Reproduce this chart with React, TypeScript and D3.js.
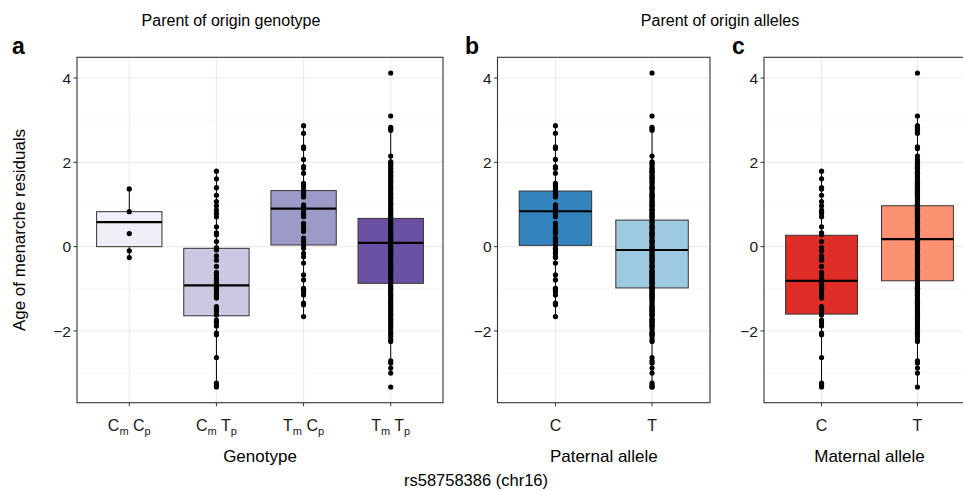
import * as d3 from "d3";
import React from "react";

// residuals per parent-of-origin genotype
const cmcp = [1.37, 0.83, 0.31, -0.1, -0.26];
const cmtp = [
  1.79, 1.61, 1.4, 1.22, 1.07, 0.97, 0.87, 0.79, 0.71, 0.47, 0.33, 0.28, 0.12,
  -0.02, -0.08, -0.22, -0.32, -0.47, -0.61, -0.67, -0.75, -0.81, -0.87, -0.95,
  -0.99, -1.04, -1.11, -1.17, -1.22, -1.42, -1.49, -1.54, -1.62, -1.74, -1.8,
  -1.88, -2.05, -2.09, -2.63, -3.24, -3.29, -3.33,
];
const tmcp = [
  2.87, 2.69, 2.37, 2.33, 2.07, 1.9, 1.86, 1.74, 1.5, 1.46, 1.42, 1.34, 1.3,
  1.26, 1.22, 1.18, 0.99, 0.95, 0.91, 0.87, 0.79, 0.75, 0.71, 0.55, 0.47, 0.39,
  0.36, 0.2, 0.12, 0.04, -0.04, -0.16, -0.24, -0.39, -0.67, -0.79, -0.99,
  -1.03, -1.07, -1.15, -1.34, -1.38, -1.66,
];
const tmtp = [
  4.12, 3.1, 2.83, 2.8, 2.76, 2.15, 2.01, 1.98, 1.93, 1.87, 1.84, 1.78, 1.75,
  1.69, 1.66, 1.61, 1.55, 1.52, 1.47, 1.41, 1.38, 1.33, 1.27, 1.24, 1.18, 1.14,
  1.09, 1.03, 1.0, 0.95, 0.89, 0.86, 0.8, 0.75, 0.71, 0.66, 0.6, 0.57, 0.52,
  0.46, 0.42, 0.37, 0.31, 0.28, 0.22, 0.17, 0.13, 0.08, 0.02, -0.01, -0.07,
  -0.12, -0.16, -0.21, -0.27, -0.3, -0.36, -0.41, -0.45, -0.5, -0.56, -0.59,
  -0.65, -0.7, -0.74, -0.79, -0.85, -0.88, -0.94, -0.99, -1.03, -1.08, -1.14,
  -1.17, -1.23, -1.28, -1.32, -1.37, -1.43, -1.46, -1.52, -1.57, -1.61, -1.66,
  -1.72, -1.75, -1.81, -1.86, -1.9, -1.96, -2.03, -2.08, -2.14, -2.21, -2.25,
  -2.71, -2.76, -2.88, -3.0, -3.33,
];

// paternal / maternal allele groups are unions of the genotype groups
const paternalC = [...cmcp, ...tmcp];
const paternalT = [...cmtp, ...tmtp];
const maternalC = [...cmcp, ...cmtp];
const maternalT = [...tmcp, ...tmtp];

// box stats: [lower whisker, q1, median, q3, upper whisker]
const genotypeBoxes = [
  [-0.26, 0.0, 0.58, 0.83, 1.37],
  [-3.33, -1.64, -0.92, -0.04, 1.79],
  [-1.66, 0.04, 0.9, 1.33, 2.87],
  [-3.0, -0.87, 0.09, 0.67, 2.83],
];
const paternalBoxes = [
  [-1.66, 0.03, 0.84, 1.32, 2.87],
  [-3.33, -0.98, -0.08, 0.63, 2.83],
];
const maternalBoxes = [
  [-3.33, -1.6, -0.81, 0.27, 1.79],
  [-3.33, -0.81, 0.18, 0.97, 3.1],
];

const genotypeLabels = [
  ["C", "m", "C", "p"],
  ["C", "m", "T", "p"],
  ["T", "m", "C", "p"],
  ["T", "m", "T", "p"],
];
const alleleLabels = ["C", "T"];
const yTicks = [-2, 0, 2, 4];
const yMinor = [-3, -1, 1, 3];

const purples = ["#f0eef6", "#cbc9e2", "#9e9ac8", "#6a51a3"];
const blues = ["#3182bd", "#9ecae1"];
const reds = ["#de2d26", "#fc9272"];

const FONT = "'Liberation Sans', Arial, Helvetica, sans-serif";
const TOP = 57.3;
const BOTTOM = 402.7;

const allValues = [...cmcp, ...cmtp, ...tmcp, ...tmtp];
const [vmin, vmax] = d3.extent(allValues) as [number, number];
const pad = (vmax - vmin) * 0.05;
const y = d3.scaleLinear().domain([vmin - pad, vmax + pad]).range([BOTTOM, TOP]);

function Panel({ left, right, groups, boxes, fills, label, xTitle, letter, letterX }) {
  const x = d3
    .scalePoint<string>()
    .domain(groups.map((_, i) => String(i)))
    .range([left, right])
    .padding(0.6);
  const bw = x.step() * 0.75;
  return (
    <g>
      {/* grid */}
      {yMinor.map((t) => (
        <line key={"mi" + t} x1={left} x2={right} y1={y(t)} y2={y(t)} stroke="#f2f2f2" strokeWidth={0.6} />
      ))}
      {yTicks.map((t) => (
        <line key={"ma" + t} x1={left} x2={right} y1={y(t)} y2={y(t)} stroke="#ebebeb" strokeWidth={1.1} />
      ))}
      {groups.map((_, i) => (
        <line key={"v" + i} x1={x(String(i))} x2={x(String(i))} y1={TOP} y2={BOTTOM} stroke="#ebebeb" strokeWidth={1.1} />
      ))}

      {/* boxes */}
      {boxes.map((b, i) => {
        const cx = x(String(i))!;
        return (
          <g key={"b" + i}>
            <line x1={cx} x2={cx} y1={y(b[4])} y2={y(b[3])} stroke="#000" strokeWidth={1} />
            <line x1={cx} x2={cx} y1={y(b[1])} y2={y(b[0])} stroke="#000" strokeWidth={1} />
            <rect x={cx - bw / 2} y={y(b[3])} width={bw} height={y(b[1]) - y(b[3])} fill={fills[i]} stroke="#333" strokeWidth={1} />
            <line x1={cx - bw / 2} x2={cx + bw / 2} y1={y(b[2])} y2={y(b[2])} stroke="#000" strokeWidth={2.2} />
          </g>
        );
      })}

      {/* points */}
      {groups.map((vals, i) =>
        vals.map((v, j) => <circle key={i + "-" + j} cx={x(String(i))} cy={y(v)} r={2.6} fill="#000" />)
      )}

      {/* border */}
      <rect x={left} y={TOP} width={right - left} height={BOTTOM - TOP} fill="none" stroke="#333" strokeWidth={1.1} />

      {/* y axis */}
      {yTicks.map((t) => (
        <g key={"yt" + t}>
          <line x1={left - 3.5} x2={left} y1={y(t)} y2={y(t)} stroke="#333" strokeWidth={1} />
          <text x={left - 6} y={y(t)} dy="0.36em" textAnchor="end" fontSize={15.5} fill="#1a1a1a">
            {t < 0 ? "\u2212" + Math.abs(t) : t}
          </text>
        </g>
      ))}

      {/* x axis */}
      {groups.map((_, i) => {
        const cx = x(String(i))!;
        return (
          <g key={"xt" + i}>
            <line x1={cx} x2={cx} y1={BOTTOM} y2={BOTTOM + 3.5} stroke="#333" strokeWidth={1} />
            {label(i, cx)}
          </g>
        );
      })}
      <text x={(left + right) / 2} y={462} textAnchor="middle" fontSize={17} fill="#000">
        {xTitle}
      </text>
      <text x={letterX} y={54} fontSize={23} fontWeight="bold" fill="#000">
        {letter}
      </text>
    </g>
  );
}

const genotypeLabel = (i: number, cx: number) => {
  const l = genotypeLabels[i];
  return (
    <text x={cx} y={431} textAnchor="middle" fontSize={16} fill="#1a1a1a">
      <tspan>{l[0]}</tspan>
      <tspan fontSize={11} dy={4}>{l[1]}</tspan>
      <tspan dy={-4}>{" " + l[2]}</tspan>
      <tspan fontSize={11} dy={4}>{l[3]}</tspan>
    </text>
  );
};

const alleleLabel = (i: number, cx: number) => (
  <text x={cx} y={431} textAnchor="middle" fontSize={16} fill="#1a1a1a">
    {alleleLabels[i]}
  </text>
);

export default function App() {
  return (
    <svg
      width={963}
      height={491}
      style={{ position: "absolute", left: 0, top: 0, background: "#fff", fontFamily: FONT }}
    >
      <rect width={963} height={491} fill="#fff" />
      <text x={231} y={26} textAnchor="middle" fontSize={16} fill="#000">
        Parent of origin genotype
      </text>
      <text x={720} y={26} textAnchor="middle" fontSize={16} fill="#000">
        Parent of origin alleles
      </text>
      <text x={19} y={230} transform="rotate(-90 19 230)" dy="0.35em" textAnchor="middle" fontSize={17} fill="#000">
        Age of menarche residuals
      </text>

      <Panel
        left={77}
        right={443}
        groups={[cmcp, cmtp, tmcp, tmtp]}
        boxes={genotypeBoxes}
        fills={purples}
        label={genotypeLabel}
        xTitle="Genotype"
        letter="a"
        letterX={12}
      />
      <Panel
        left={497.5}
        right={710}
        groups={[paternalC, paternalT]}
        boxes={paternalBoxes}
        fills={blues}
        label={alleleLabel}
        xTitle="Paternal allele"
        letter="b"
        letterX={465}
      />
      <Panel
        left={764}
        right={975}
        groups={[maternalC, maternalT]}
        boxes={maternalBoxes}
        fills={reds}
        label={alleleLabel}
        xTitle="Maternal allele"
        letter="c"
        letterX={732}
      />

      <text x={476} y={486} textAnchor="middle" fontSize={16.5} fill="#000">
        rs58758386 (chr16)
      </text>
    </svg>
  );
}
